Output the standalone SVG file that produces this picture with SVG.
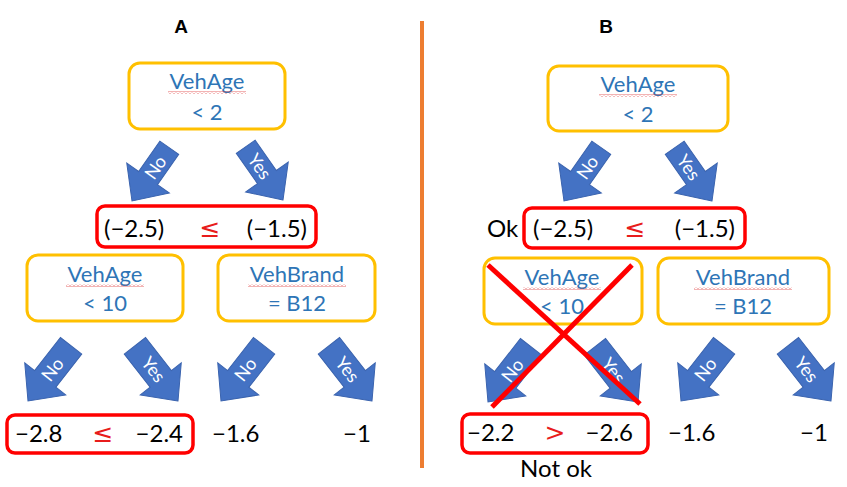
<svg xmlns="http://www.w3.org/2000/svg" width="847" height="487" viewBox="0 0 847 487">
<style>
.cond{fill:none;stroke:#FFC000;stroke-width:3}
.red{fill:none;stroke:#FF0000;stroke-width:3.5}
.ct{font-family:Lato,'Liberation Sans',sans-serif;font-size:22px;fill:#2E75B6;text-anchor:middle}
.num{font-family:Lato,'Liberation Sans',sans-serif;font-size:24px;fill:#000}
.op{font-family:'DejaVu Sans',sans-serif;font-size:25px;fill:#E81C1C;text-anchor:middle}
.lbl{font-family:'Liberation Sans',Arial,sans-serif;font-size:19px;font-weight:bold;fill:#000;text-anchor:middle}
.arr{fill:#4472C4;stroke:#3A63AE;stroke-width:1}
.at{font-family:Lato,'Liberation Sans',sans-serif;font-size:18px;fill:#FFFFFF;text-anchor:middle}
.sq{fill:url(#squig)}
</style>
<defs>
<pattern id="squig" width="4" height="3" patternUnits="userSpaceOnUse">
<path d="M0,2.5 L2,0.5 L4,2.5" fill="none" stroke="#E04040" stroke-width="0.8"/>
</pattern>
<path id="arrS" d="M0,0 L-26,-28 L-11.5,-28 L-11.5,-65 L11.5,-65 L11.5,-28 L26,-28 Z"/>
<path id="arrL" d="M0,0 L-26,-28 L-13.5,-28 L-13.5,-70 L13.5,-70 L13.5,-28 L26,-28 Z"/>
</defs>
<rect width="847" height="487" fill="#FFFFFF"/>

<text class="lbl" x="181" y="33">A</text>
<text class="lbl" x="606" y="33">B</text>
<line x1="422" y1="21" x2="422" y2="468" stroke="#ED7D31" stroke-width="4"/>

<g id="connectors">
<g class="arr">
<use href="#arrS" transform="translate(132,201) rotate(35)"/>
<use href="#arrS" transform="translate(283,200) rotate(-35)"/>
<use href="#arrS" transform="translate(564,201) rotate(35)"/>
<use href="#arrS" transform="translate(712,201) rotate(-35)"/>
<use href="#arrL" transform="translate(28,401) rotate(38)"/>
<use href="#arrL" transform="translate(178,401) rotate(-38)"/>
<use href="#arrL" transform="translate(221,401) rotate(38)"/>
<use href="#arrL" transform="translate(372,401) rotate(-38)"/>
<use href="#arrL" transform="translate(488,402) rotate(38)"/>
<use href="#arrL" transform="translate(638,402) rotate(-38)"/>
<use href="#arrL" transform="translate(681,401) rotate(38)"/>
<use href="#arrL" transform="translate(831,401) rotate(-38)"/>
</g>
<text class="at" dy="0.35em" transform="translate(155.5,167.5) rotate(-55)">No</text>
<text class="at" dy="0.35em" transform="translate(259.5,166.5) rotate(55)">Yes</text>
<text class="at" dy="0.35em" transform="translate(587.5,167.5) rotate(-55)">No</text>
<text class="at" dy="0.35em" transform="translate(688.5,167.5) rotate(55)">Yes</text>
<text class="at" dy="0.35em" transform="translate(52.6,369.5) rotate(-52)">No</text>
<text class="at" dy="0.35em" transform="translate(153.4,369.5) rotate(52)">Yes</text>
<text class="at" dy="0.35em" transform="translate(245.6,369.5) rotate(-52)">No</text>
<text class="at" dy="0.35em" transform="translate(347.4,369.5) rotate(52)">Yes</text>
<text class="at" dy="0.35em" transform="translate(512.6,370.5) rotate(-52)">No</text>
<text class="at" dy="0.35em" transform="translate(613.4,370.5) rotate(52)">Yes</text>
<text class="at" dy="0.35em" transform="translate(705.6,369.5) rotate(-52)">No</text>
<text class="at" dy="0.35em" transform="translate(806.4,369.5) rotate(52)">Yes</text>
</g>

<g id="A-root">
<rect class="cond" x="129" y="63" width="156" height="66" rx="11"/>
<text class="ct" x="207" y="89">VehAge</text>
<rect class="sq" x="168" y="91" width="78" height="3"/>
<text class="ct" x="207" y="120">&lt; 2</text>
</g>
<g id="A-cmp1">
<rect class="red" x="97" y="206" width="219" height="41" rx="8"/>
<text class="num" x="104" y="237">(−2.5)</text>
<text class="op" x="210" y="237">≤</text>
<text class="num" x="307" y="237" text-anchor="end">(−1.5)</text>
</g>
<g id="A-left">
<rect class="cond" x="27" y="255" width="156" height="66" rx="11"/>
<text class="ct" x="105" y="282">VehAge</text>
<rect class="sq" x="66" y="284" width="78" height="3"/>
<text class="ct" x="105" y="311">&lt; 10</text>
</g>
<g id="A-right">
<rect class="cond" x="218" y="255" width="157" height="66" rx="11"/>
<text class="ct" x="297" y="282">VehBrand</text>
<rect class="sq" x="248" y="284" width="98" height="3"/>
<text class="ct" x="297" y="311">= B12</text>
</g>
<g id="A-cmp2">
<rect class="red" x="7" y="415" width="186" height="38" rx="8"/>
<text class="num" x="15" y="442">−2.8</text>
<text class="op" x="103" y="442">≤</text>
<text class="num" x="183" y="442" text-anchor="end">−2.4</text>
</g>
<g id="A-leaf3"><text class="num" x="212" y="442">−1.6</text></g>
<g id="A-leaf4"><text class="num" x="343" y="442">−1</text></g>

<g id="B-root">
<rect class="cond" x="548" y="66" width="180" height="65" rx="11"/>
<text class="ct" x="638" y="92">VehAge</text>
<rect class="sq" x="599" y="94" width="78" height="3"/>
<text class="ct" x="638" y="122">&lt; 2</text>
</g>
<g id="B-cmp1">
<text class="num" x="487" y="237">Ok</text>
<rect class="red" x="524" y="208" width="221" height="40" rx="8"/>
<text class="num" x="533" y="237">(−2.5)</text>
<text class="op" x="635" y="237">≤</text>
<text class="num" x="735" y="237" text-anchor="end">(−1.5)</text>
</g>
<g id="B-left">
<rect class="cond" x="484" y="258" width="158" height="66" rx="11"/>
<text class="ct" x="562" y="285">VehAge</text>
<rect class="sq" x="523" y="287" width="78" height="3"/>
<text class="ct" x="562" y="314">&lt; 10</text>
</g>
<g id="B-right">
<rect class="cond" x="658" y="258" width="171" height="66" rx="11"/>
<text class="ct" x="743" y="285">VehBrand</text>
<rect class="sq" x="694" y="287" width="98" height="3"/>
<text class="ct" x="743" y="314">= B12</text>
</g>
<g id="B-cmp2">
<rect class="red" x="462" y="414" width="186" height="39" rx="8"/>
<text class="num" x="467" y="441">−2.2</text>
<text class="op" x="555" y="441">&gt;</text>
<text class="num" x="633" y="441" text-anchor="end">−2.6</text>
<text class="num" x="556" y="477" text-anchor="middle">Not ok</text>
</g>
<g id="B-leaf3"><text class="num" x="668" y="441">−1.6</text></g>
<g id="B-leaf4"><text class="num" x="800" y="441">−1</text></g>

<g id="cross">
<line x1="488" y1="265" x2="640" y2="404" stroke="#FF0000" stroke-width="5"/>
<line x1="632" y1="265" x2="492" y2="407" stroke="#FF0000" stroke-width="5"/>
</g>
</svg>
